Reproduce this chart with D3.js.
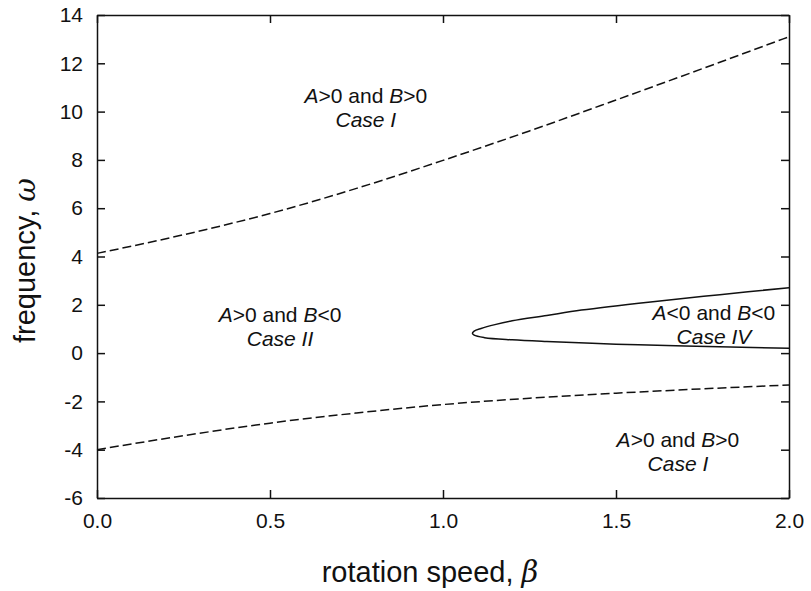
<!DOCTYPE html>
<html>
<head>
<meta charset="utf-8">
<script src="https://cdn.jsdelivr.net/npm/d3@7"></script>
<style>
  body { margin: 0; background: #fff; }
  svg { font-family: "Liberation Sans", Arial, Helvetica, sans-serif; }
  .axis path, .axis line { stroke: #111; stroke-width: 1.5; }
</style>
</head>
<body>
<div class="chart"></div>
<script>
'use strict';

// Data
const upperBeta = [0, 0.25, 0.5, 0.75, 1.0, 1.25, 1.5, 1.75, 2.0];
const upperOmega = [4.13, 4.9, 5.78, 6.82, 7.98, 9.2, 10.48, 11.78, 13.1];

const lowerBeta = [0, 0.25, 0.5, 0.75, 1.0, 1.25, 1.5, 1.75, 2.0];
const lowerOmega = [-4.0, -3.42, -2.9, -2.48, -2.13, -1.87, -1.66, -1.48, -1.32];

// Case IV boundary: upper branch from right to the tip, then lower branch back
const loopBeta = [2.0, 1.8, 1.6, 1.4, 1.3, 1.2, 1.15, 1.11, 1.09, 1.085, 1.09, 1.12, 1.2, 1.3, 1.5, 1.7, 2.0];
const loopOmega = [2.71, 2.42, 2.12, 1.78, 1.56, 1.34, 1.18, 1.02, 0.91, 0.82, 0.74, 0.64, 0.55, 0.48, 0.37, 0.29, 0.2];

const xTicks = [0, 0.5, 1.0, 1.5, 2.0];
const yTicks = [-6, -4, -2, 0, 2, 4, 6, 8, 10, 12, 14];

const regionLabels = [
  { beta: 0.777, omega: 10.36, line1: ['A', '>0 and ', 'B', '>0'], line2: 'Case I' },
  { beta: 0.529, omega: 1.29, line1: ['A', '>0 and ', 'B', '<0'], line2: 'Case II' },
  { beta: 1.783, omega: 1.38, line1: ['A', '<0 and ', 'B', '<0'], line2: 'Case IV' },
  { beta: 1.679, omega: -3.89, line1: ['A', '>0 and ', 'B', '>0'], line2: 'Case I' }
];

// Layout
const w = 811;
const h = 591;
const margin = { top: 15, right: 22, bottom: 93, left: 97 };
const innerW = w - margin.left - margin.right;
const innerH = h - margin.top - margin.bottom;

const svg = d3.select('.chart')
  .append('svg')
  .attr('width', w)
  .attr('height', h);

const g = svg.append('g')
  .attr('transform', `translate(${margin.left}, ${margin.top})`);

const xScale = d3.scaleLinear().domain([0, 2]).range([0, innerW]);
const yScale = d3.scaleLinear().domain([-6, 14]).range([innerH, 0]);

// Axes, ticks pointing inward on all four sides
const xAxisG = g.append('g')
  .attr('class', 'axis')
  .attr('transform', `translate(0, ${innerH})`)
  .call(d3.axisBottom(xScale).tickValues(xTicks).tickSize(-8).tickSizeOuter(0)
    .tickPadding(15).tickFormat(d3.format('.1f')));

g.append('g')
  .attr('class', 'axis')
  .call(d3.axisTop(xScale).tickValues(xTicks).tickSize(-8).tickSizeOuter(0).tickFormat(''));

const yAxisG = g.append('g')
  .attr('class', 'axis')
  .call(d3.axisLeft(yScale).tickValues(yTicks).tickSize(-8).tickSizeOuter(0)
    .tickPadding(14).tickFormat(d => String(d)));

g.append('g')
  .attr('class', 'axis')
  .attr('transform', `translate(${innerW}, 0)`)
  .call(d3.axisRight(yScale).tickValues(yTicks).tickSize(-8).tickSizeOuter(0).tickFormat(''));

[xAxisG, yAxisG].forEach(a => {
  a.attr('font-family', null).attr('font-size', null);
  a.selectAll('text')
    .attr('font-size', 21)
    .attr('fill', '#111');
});

// Curves
const line = d3.line()
  .x(d => xScale(d[0]))
  .y(d => yScale(d[1]))
  .curve(d3.curveMonotoneX);

const plot = g.append('g');

plot.append('path')
  .datum(d3.zip(upperBeta, upperOmega))
  .attr('d', line)
  .attr('fill', 'none')
  .attr('stroke', '#111')
  .attr('stroke-width', 1.5)
  .attr('stroke-dasharray', '9,4');

plot.append('path')
  .datum(d3.zip(lowerBeta, lowerOmega))
  .attr('d', line)
  .attr('fill', 'none')
  .attr('stroke', '#111')
  .attr('stroke-width', 1.5)
  .attr('stroke-dasharray', '9,4');

plot.append('path')
  .datum(d3.zip(loopBeta, loopOmega))
  .attr('d', line.curve(d3.curveCatmullRom.alpha(0.5)))
  .attr('fill', 'none')
  .attr('stroke', '#111')
  .attr('stroke-width', 1.5);

// Region labels
regionLabels.forEach(lab => {
  const t = g.append('text')
    .attr('x', xScale(lab.beta))
    .attr('y', yScale(lab.omega))
    .attr('text-anchor', 'middle')
    .attr('font-size', 21)
    .attr('fill', '#111');

  lab.line1.forEach((s, i) => {
    t.append('tspan')
      .attr('font-style', i % 2 === 0 ? 'italic' : 'normal')
      .text(s);
  });

  g.append('text')
    .attr('x', xScale(lab.beta))
    .attr('y', yScale(lab.omega) + 24)
    .attr('text-anchor', 'middle')
    .attr('font-size', 21)
    .attr('font-style', 'italic')
    .attr('fill', '#111')
    .text(lab.line2);
});

// Axis titles
svg.append('text')
  .attr('x', margin.left + innerW / 2 - 13)
  .attr('y', 582)
  .attr('text-anchor', 'middle')
  .attr('font-size', 29)
  .attr('fill', '#111')
  .text('rotation speed, ')
  .append('tspan')
  .attr('font-style', 'italic')
  .attr('font-family', '"DejaVu Serif", serif')
  .text('β');

svg.append('text')
  .attr('transform', `translate(35, ${margin.top + innerH / 2 + 4}) rotate(-90)`)
  .attr('text-anchor', 'middle')
  .attr('font-size', 29)
  .attr('fill', '#111')
  .text('frequency, ')
  .append('tspan')
  .attr('font-style', 'italic')
  .attr('font-family', '"DejaVu Serif", serif')
  .text('ω');
</script>
</body>
</html>
